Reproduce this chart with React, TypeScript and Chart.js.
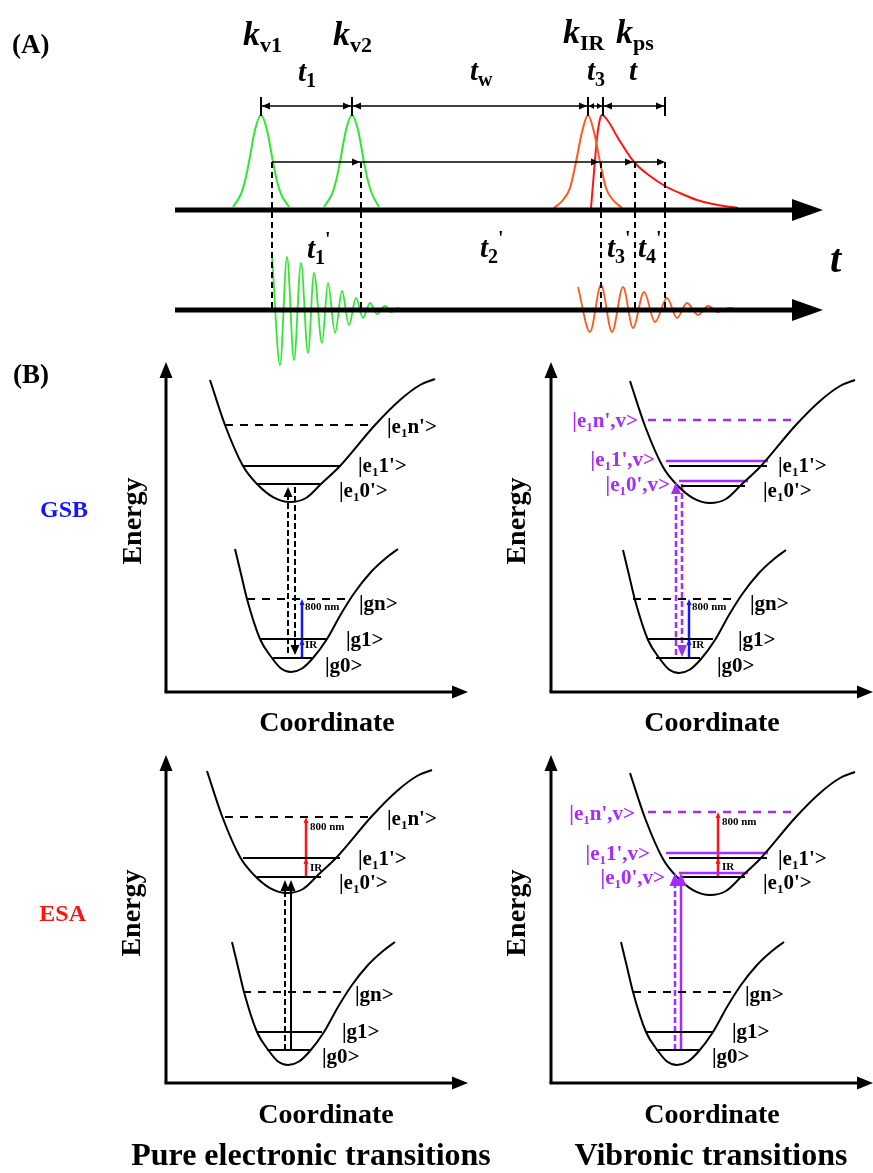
import React, { useEffect, useRef } from "react";
import { Chart, registerables } from "chart.js";

Chart.register(...registerables);

type P = [number, number];
type Txt = {
  s: string; x: number; y: number; size: number; sub?: number;
  italic?: boolean; color?: string; align?: "left" | "center" | "right"; rot?: boolean;
};
type Head = { x: number; y: number; dir: "u" | "d" | "l" | "r"; len: number; half: number; color?: string };

const W = 873;
const H = 1173;
const SERIF = '"Liberation Serif", "Times New Roman", serif';
const BLACK = "#000000";
const GREEN = "#33e633";
const ORANGE = "#ff5a1e";
const RED = "#ff1414";
const PURPLE = "#a52bff";
const BLUE = "#1414ff";

// ---------- Panel (A): pulse sequence ----------
const PULSE_KV1: P[] = [[233, 207], [241, 194], [245, 181], [249, 162], [255, 130], [261, 115], [267, 130], [273, 162], [277, 181], [281, 194], [289, 207]];
const PULSE_KV2: P[] = [[324, 207], [332, 194], [336, 181], [340, 162], [346, 130], [352, 115], [358, 130], [364, 162], [368, 181], [372, 194], [379, 207]];
const PULSE_KIR: P[] = [[554, 208], [563, 200], [570, 188], [576, 162], [582, 132], [588, 115], [594, 132], [600, 162], [606, 188], [613, 200], [622, 208]];
const PULSE_KPS: P[] = [[591, 208], [594, 172], [597, 138], [600, 119], [602, 115], [608, 121], [618, 138], [634, 162], [650, 176], [665, 186], [682, 194], [697, 200], [718, 205], [738, 208]];
const SIGNAL_GREEN: P[] = [[272, 255], [280, 365], [287, 257], [294, 360], [301, 263], [308, 353], [314, 273], [322, 343], [328, 283], [335, 333], [342, 291], [349, 325], [356, 298], [363, 318], [370, 303], [377, 314], [385, 306], [391, 312], [398, 308], [404, 311], [411, 309], [418, 310], [440, 310]];
const SIGNAL_ORANGE: P[] = [[578, 287], [590, 332], [601, 285], [612, 332], [623, 287], [633, 328], [644, 292], [655, 322], [667, 298], [677, 318], [687, 303], [698, 315], [708, 306], [718, 312], [730, 308], [740, 310], [753, 309]];
const TIME_AXES_Y = [210, 310];
const DIM_TICKS_X = [261, 352, 588, 603, 665];
const DELAY_MARKS_X = [272, 361, 601, 635, 665];

// ---------- Panel (B): potential wells ----------
const UPPER_WELL: P[] = [[-80, -122], [-65, -77], [-47, -36], [-33, -18], [-17, -5], [0, 0], [16, -4], [31, -18], [50, -36], [85, -77], [110, -102], [130, -117], [145, -123]];
const LOWER_WELL: P[] = [[-56, -123], [-50, -98], [-44, -73], [-31, -33], [-19, -14], [-10, -3.5], [0, 0], [11, -3.5], [22, -14], [36, -33], [50, -58], [64, -80], [80, -100], [95, -114], [107, -123]];
const WELL_MINIMA: P[] = [[290, 502], [291, 672], [710, 503], [679, 673], [287, 893], [288, 1065], [710, 895], [677, 1065]];
// sub-panel axes: origin x, origin y, x tip, y tip
const SUB_AXES: number[][] = [[166, 692, 468, 362], [551, 692, 871, 362], [166, 1083, 468, 755], [551, 1083, 871, 755]];

// energy levels: y, x from, x to, colour, dashed
const LEVELS: [number, number, number, string, boolean][] = [
  [425, 225, 375, BLACK, true], [466, 243, 340, BLACK, false], [484, 257, 321, BLACK, false],
  [599, 247, 348, BLACK, true], [639, 260, 327, BLACK, false], [658, 273, 313, BLACK, false],
  [420, 648, 798, PURPLE, true], [461, 666, 768, PURPLE, false], [466, 669, 767, BLACK, false],
  [481, 679, 748, PURPLE, false], [486, 681, 745, BLACK, false],
  [599, 633, 732, BLACK, true], [639, 647, 713, BLACK, false], [658, 656, 700, BLACK, false],
  [817, 225, 375, BLACK, true], [858, 243, 340, BLACK, false], [877, 257, 321, BLACK, false],
  [992, 243, 343, BLACK, true], [1032, 257, 322, BLACK, false], [1050, 267, 310, BLACK, false],
  [812, 648, 798, PURPLE, true], [853, 666, 768, PURPLE, false], [858, 669, 767, BLACK, false],
  [873, 679, 748, PURPLE, false], [877, 681, 745, BLACK, false],
  [992, 633, 735, BLACK, true], [1032, 647, 713, BLACK, false], [1050, 656, 699, BLACK, false],
];

// transitions: x, y from, y to, colour, dashed, width
const TRANSITIONS: [number, number, number, string, boolean, number][] = [
  [288, 653, 492, BLACK, true, 2], [295, 487, 650, BLACK, true, 2], [302, 658, 604, BLUE, false, 2.5],
  [676, 655, 488, PURPLE, true, 2.5], [682, 484, 651, PURPLE, true, 2.5], [689, 658, 604, BLUE, false, 2.5],
  [285, 1050, 888, BLACK, true, 2], [291, 1050, 888, BLACK, false, 2], [306, 877, 822, RED, false, 2.5],
  [675, 1050, 882, PURPLE, true, 2.5], [681, 1050, 882, PURPLE, false, 2.5], [718, 877, 817, RED, false, 2.5],
];

const HEADS: Head[] = [
  { x: 823, y: 210, dir: "r", len: 31, half: 11 }, { x: 823, y: 310, dir: "r", len: 31, half: 11 },
  { x: 262, y: 106, dir: "l", len: 8, half: 3.5 }, { x: 351, y: 106, dir: "r", len: 8, half: 3.5 },
  { x: 353, y: 106, dir: "l", len: 8, half: 3.5 }, { x: 587, y: 106, dir: "r", len: 8, half: 3.5 },
  { x: 589, y: 106, dir: "l", len: 5, half: 3 }, { x: 602, y: 106, dir: "r", len: 5, half: 3 },
  { x: 604, y: 106, dir: "l", len: 8, half: 3.5 }, { x: 664, y: 106, dir: "r", len: 8, half: 3.5 },
  { x: 360, y: 162, dir: "r", len: 8, half: 3.5 }, { x: 599, y: 162, dir: "r", len: 8, half: 3.5 },
  { x: 633, y: 162, dir: "r", len: 8, half: 3.5 }, { x: 665, y: 162, dir: "r", len: 8, half: 3.5 },
  { x: 166, y: 362, dir: "u", len: 16, half: 6.5 }, { x: 468, y: 692, dir: "r", len: 16, half: 6.5 },
  { x: 551, y: 362, dir: "u", len: 16, half: 6.5 }, { x: 873, y: 692, dir: "r", len: 16, half: 6.5 },
  { x: 166, y: 755, dir: "u", len: 16, half: 6.5 }, { x: 468, y: 1083, dir: "r", len: 16, half: 6.5 },
  { x: 551, y: 755, dir: "u", len: 16, half: 6.5 }, { x: 873, y: 1083, dir: "r", len: 16, half: 6.5 },
  { x: 288, y: 487, dir: "u", len: 10, half: 4.5 }, { x: 295, y: 655, dir: "d", len: 10, half: 4.5 },
  { x: 302, y: 599, dir: "u", len: 6, half: 2.5, color: BLUE }, { x: 302, y: 639, dir: "u", len: 6, half: 2.5, color: BLUE },
  { x: 676, y: 482, dir: "u", len: 12, half: 5, color: PURPLE }, { x: 682, y: 657, dir: "d", len: 12, half: 5, color: PURPLE },
  { x: 689, y: 599, dir: "u", len: 6, half: 2.5, color: BLUE }, { x: 689, y: 639, dir: "u", len: 6, half: 2.5, color: BLUE },
  { x: 285, y: 880, dir: "u", len: 11, half: 4.5 }, { x: 291, y: 880, dir: "u", len: 11, half: 4.5 },
  { x: 306, y: 817, dir: "u", len: 6, half: 2.5, color: RED }, { x: 306, y: 858, dir: "u", len: 6, half: 2.5, color: RED },
  { x: 675, y: 873, dir: "u", len: 13, half: 5.5, color: PURPLE }, { x: 681, y: 873, dir: "u", len: 13, half: 5.5, color: PURPLE },
  { x: 718, y: 812, dir: "u", len: 6, half: 2.5, color: RED }, { x: 718, y: 858, dir: "u", len: 6, half: 2.5, color: RED },
];

const TEXTS_A: Txt[] = [
  { s: "(A)", x: 12, y: 53, size: 27 },
  { s: "k_{v1}", x: 243, y: 45, size: 34, sub: 22, italic: true },
  { s: "k_{v2}", x: 333, y: 45, size: 34, sub: 22, italic: true },
  { s: "k_{IR}", x: 563, y: 43, size: 34, sub: 22, italic: true },
  { s: "k_{ps}", x: 616, y: 43, size: 34, sub: 22, italic: true },
  { s: "t_{1}", x: 298, y: 81, size: 29, sub: 20, italic: true },
  { s: "t_{w}", x: 470, y: 80, size: 29, sub: 20, italic: true },
  { s: "t_{3}", x: 587, y: 80, size: 29, sub: 20, italic: true },
  { s: "t", x: 629, y: 80, size: 29, italic: true },
  { s: "t_{1}^{'}", x: 307, y: 258, size: 29, sub: 20, italic: true },
  { s: "t_{2}^{'}", x: 480, y: 257, size: 29, sub: 20, italic: true },
  { s: "t_{3}^{'}", x: 607, y: 257, size: 29, sub: 20, italic: true },
  { s: "t_{4}^{'}", x: 638, y: 257, size: 29, sub: 20, italic: true },
  { s: "t", x: 830, y: 272, size: 40, italic: true },
];

const LEVEL_LABELS: [string, number, number][] = [
  ["|e_{1}n'>", 387, 433], ["|e_{1}1'>", 358, 472], ["|e_{1}0'>", 339, 497], ["|gn>", 359, 610], ["|g1>", 346, 646], ["|g0>", 325, 672],
  ["|e_{1}1'>", 778, 472], ["|e_{1}0'>", 763, 497], ["|gn>", 750, 610], ["|g1>", 738, 646], ["|g0>", 717, 672],
  ["|e_{1}n'>", 387, 825], ["|e_{1}1'>", 358, 865], ["|e_{1}0'>", 339, 889], ["|gn>", 355, 1001], ["|g1>", 342, 1038], ["|g0>", 322, 1063],
  ["|e_{1}1'>", 778, 865], ["|e_{1}0'>", 763, 889], ["|gn>", 745, 1001], ["|g1>", 732, 1038], ["|g0>", 712, 1063],
];
const VIBRONIC_LABELS: [string, number, number][] = [
  ["|e_{1}n',v>", 638, 427], ["|e_{1}1',v>", 655, 466], ["|e_{1}0',v>", 670, 491],
  ["|e_{1}n',v>", 635, 820], ["|e_{1}1',v>", 650, 860], ["|e_{1}0',v>", 665, 884],
];
const SMALL_LABELS: [string, number, number][] = [
  ["800 nm", 305, 610], ["IR", 305, 648], ["800 nm", 692, 610], ["IR", 692, 648],
  ["800 nm", 310, 830], ["IR", 310, 871], ["800 nm", 722, 825], ["IR", 722, 870],
];
const AXIS_TITLES: [string, number, number, boolean][] = [
  ["Energy", 134, 521, true], ["Energy", 518, 521, true], ["Energy", 133, 913, true], ["Energy", 518, 913, true],
  ["Coordinate", 327, 731, false], ["Coordinate", 712, 731, false], ["Coordinate", 326, 1123, false], ["Coordinate", 712, 1123, false],
];
const TEXTS_B: Txt[] = [
  { s: "(B)", x: 13, y: 383, size: 27 },
  { s: "GSB", x: 88, y: 517, size: 24, color: BLUE, align: "right" },
  { s: "ESA", x: 86, y: 921, size: 24, color: RED, align: "right" },
  { s: "Pure electronic transitions", x: 311, y: 1165, size: 32, align: "center" },
  { s: "Vibronic transitions", x: 711, y: 1165, size: 32, align: "center" },
];

function allTexts(): Txt[] {
  const out: Txt[] = [...TEXTS_A, ...TEXTS_B];
  LEVEL_LABELS.forEach(([s, x, y]) => out.push({ s, x, y, size: 21, sub: 13 }));
  VIBRONIC_LABELS.forEach(([s, x, y]) => out.push({ s, x, y, size: 21, sub: 13, color: PURPLE, align: "right" }));
  SMALL_LABELS.forEach(([s, x, y]) => out.push({ s, x, y, size: 11 }));
  AXIS_TITLES.forEach(([s, x, y, rot]) => out.push({ s, x, y, size: 28, rot, align: "center" }));
  return out;
}

function parseRich(s: string) {
  const segs: { t: string; k: "n" | "sub" | "sup" }[] = [];
  let i = 0;
  let buf = "";
  while (i < s.length) {
    if ((s[i] === "_" || s[i] === "^") && s[i + 1] === "{") {
      if (buf) { segs.push({ t: buf, k: "n" }); buf = ""; }
      const end = s.indexOf("}", i);
      segs.push({ t: s.slice(i + 2, end), k: s[i] === "_" ? "sub" : "sup" });
      i = end + 1;
    } else { buf += s[i]; i++; }
  }
  if (buf) segs.push({ t: buf, k: "n" });
  return segs;
}

function ds(pts: P[], color: string, width: number, extra: any = {}) {
  return {
    data: pts.map(([x, y]) => ({ x, y })),
    borderColor: color,
    backgroundColor: color,
    borderWidth: width,
    pointRadius: 0,
    pointHoverRadius: 0,
    fill: false,
    tension: 0,
    borderCapStyle: "butt",
    ...extra,
  };
}

function buildDatasets() {
  const out: any[] = [];
  const smooth = { cubicInterpolationMode: "monotone" };
  TIME_AXES_Y.forEach((y) => out.push(ds([[175, y], [800, y]], BLACK, 5)));
  out.push(ds([[261, 106], [665, 106]], BLACK, 1.5));
  DIM_TICKS_X.forEach((x) => out.push(ds([[x, 97], [x, 116]], BLACK, 2)));
  out.push(ds([[272, 162], [662, 162]], BLACK, 1.5));
  DELAY_MARKS_X.forEach((x) => out.push(ds([[x, 162], [x, 310]], BLACK, 2, { borderDash: [6, 4] })));
  out.push(ds(PULSE_KV1, GREEN, 2, smooth));
  out.push(ds(PULSE_KV2, GREEN, 2, smooth));
  out.push(ds(PULSE_KIR, ORANGE, 2, smooth));
  out.push(ds(PULSE_KPS, RED, 2, smooth));
  out.push(ds(SIGNAL_GREEN, GREEN, 1.8, smooth));
  out.push(ds(SIGNAL_ORANGE, ORANGE, 1.8, smooth));
  SUB_AXES.forEach(([x0, y0, xt, yt]) => {
    out.push(ds([[x0, y0], [x0, yt + 8]], BLACK, 3));
    out.push(ds([[x0 - 1.5, y0], [xt - 8, y0]], BLACK, 3));
  });
  WELL_MINIMA.forEach(([mx, my], i) => {
    const prof = i % 2 === 0 ? UPPER_WELL : LOWER_WELL;
    out.push(ds(prof.map(([dx, dy]) => [mx + dx, my + dy] as P), BLACK, 2, smooth));
  });
  LEVELS.forEach(([y, x1, x2, c, dash]) =>
    out.push(ds([[x1, y], [x2, y]], c, c === PURPLE ? 2.5 : 2, dash ? { borderDash: [8, 7] } : {}))
  );
  TRANSITIONS.forEach(([x, y1, y2, c, dash, w]) =>
    out.push(ds([[x, y1], [x, y2]], c, w, dash ? { borderDash: [6, 3] } : {}))
  );
  return out;
}

const decorPlugin = {
  id: "decor",
  afterDatasetsDraw(chart: any) {
    const ctx: CanvasRenderingContext2D = chart.ctx;
    const sx = chart.scales.x;
    const sy = chart.scales.y;
    ctx.save();
    HEADS.forEach((h) => {
      const px = sx.getPixelForValue(h.x);
      const py = sy.getPixelForValue(h.y);
      ctx.fillStyle = h.color || BLACK;
      ctx.beginPath();
      ctx.moveTo(px, py);
      if (h.dir === "r") { ctx.lineTo(px - h.len, py - h.half); ctx.lineTo(px - h.len, py + h.half); }
      if (h.dir === "l") { ctx.lineTo(px + h.len, py - h.half); ctx.lineTo(px + h.len, py + h.half); }
      if (h.dir === "u") { ctx.lineTo(px - h.half, py + h.len); ctx.lineTo(px + h.half, py + h.len); }
      if (h.dir === "d") { ctx.lineTo(px - h.half, py - h.len); ctx.lineTo(px + h.half, py - h.len); }
      ctx.closePath();
      ctx.fill();
    });
    allTexts().forEach((t) => {
      const px = sx.getPixelForValue(t.x);
      const py = sy.getPixelForValue(t.y);
      const segs = parseRich(t.s);
      const subSize = t.sub || Math.round(t.size * 0.62);
      const fMain = `${t.italic ? "italic " : ""}bold ${t.size}px ${SERIF}`;
      const fSub = `bold ${subSize}px ${SERIF}`;
      const widths = segs.map((sg) => { ctx.font = sg.k === "n" ? fMain : fSub; return ctx.measureText(sg.t).width; });
      const total = widths.reduce((a, b) => a + b, 0);
      ctx.save();
      ctx.fillStyle = t.color || BLACK;
      ctx.translate(px, py);
      if (t.rot) { ctx.rotate(-Math.PI / 2); ctx.textBaseline = "middle"; } else { ctx.textBaseline = "alphabetic"; }
      ctx.textAlign = "left";
      let x = t.align === "center" ? -total / 2 : t.align === "right" ? -total : 0;
      segs.forEach((sg, i) => {
        ctx.font = sg.k === "n" ? fMain : fSub;
        const dy = sg.k === "sub" ? t.size * 0.2 : sg.k === "sup" ? -t.size * 0.42 : 0;
        ctx.fillText(sg.t, x, dy);
        x += widths[i];
      });
      ctx.restore();
    });
    ctx.restore();
  },
};

export default function App() {
  const ref = useRef<HTMLCanvasElement | null>(null);
  useEffect(() => {
    document.body.style.margin = "0";
    const canvas = ref.current;
    if (!canvas) return;
    const chart = new Chart(canvas, {
      type: "line",
      data: { datasets: buildDatasets() },
      options: {
        animation: false,
        responsive: false,
        devicePixelRatio: 1,
        events: [],
        layout: { padding: 0 },
        plugins: { legend: { display: false }, tooltip: { enabled: false } },
        scales: {
          x: { type: "linear", min: 0, max: W, display: false },
          y: { type: "linear", min: 0, max: H, reverse: true, display: false },
        },
      } as any,
      plugins: [decorPlugin],
    });
    return () => chart.destroy();
  }, []);
  return (
    <div style={{ width: W, height: H, background: "#fff" }}>
      <canvas ref={ref} width={W} height={H} style={{ display: "block" }} />
    </div>
  );
}
